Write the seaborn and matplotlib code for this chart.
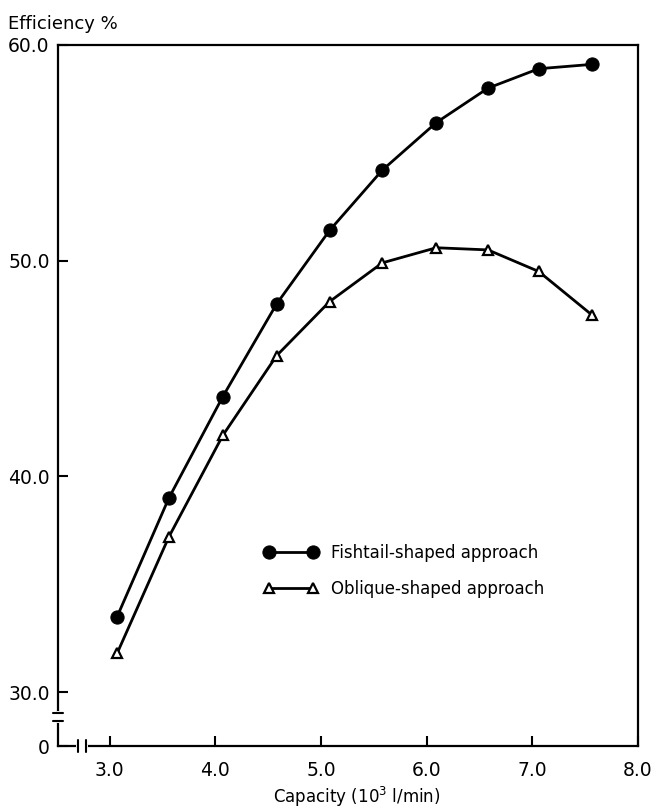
import pandas as pd
import seaborn as sns
import matplotlib.pyplot as plt

# values
capacity = [3.07, 3.56, 4.07, 4.58, 5.08, 5.58, 6.09, 6.58, 7.06, 7.56]
fishtail = [33.5, 39.0, 43.7, 48.0, 51.4, 54.2, 56.4, 58.0, 58.9, 59.1]
oblique = [31.8, 37.2, 41.9, 45.6, 48.1, 49.9, 50.6, 50.5, 49.5, 47.5]

x_ticks = [3.0, 4.0, 5.0, 6.0, 7.0, 8.0]
x_labels = ["3.0", "4.0", "5.0", "6.0", "7.0", "8.0"]
y_ticks = [27.5, 30.0, 40.0, 50.0, 60.0]
y_labels = ["0", "30.0", "40.0", "50.0", "60.0"]

df = pd.DataFrame({"capacity": capacity, "fishtail": fishtail, "oblique": oblique})

sns.set_style("ticks")
plt.rcParams["font.family"] = ["DejaVu Sans"]
plt.rcParams["text.color"] = "black"
plt.rcParams["xtick.color"] = "black"
plt.rcParams["ytick.color"] = "black"

fig = plt.figure(figsize=(6.57, 8.09), dpi=100)
ax = fig.add_axes([58 / 657, 1 - 746 / 809, 580 / 657, 701 / 809])

sns.lineplot(data=df, x="capacity", y="fishtail", ax=ax, color="black", lw=2,
             marker="o", ms=9.5, mfc="black", mec="black",
             label="Fishtail-shaped approach")
sns.lineplot(data=df, x="capacity", y="oblique", ax=ax, color="black", lw=2,
             marker="^", ms=7.5, mfc="white", mec="black", mew=1.6,
             label="Oblique-shaped approach")

ax.set_xlim(2.51, 8.0)
ax.set_ylim(27.5, 60.0)
ax.set_xticks(x_ticks)
ax.set_xticklabels(x_labels)
ax.set_yticks(y_ticks)
ax.set_yticklabels(y_labels)
ax.tick_params(axis="both", direction="in", length=7, width=1.5, labelsize=13.5,
               colors="black")
ax.tick_params(axis="x", pad=11)
ax.tick_params(axis="y", pad=6)
ax.set_xlabel("")
ax.set_ylabel("")
for s in ax.spines.values():
    s.set_visible(True)
    s.set_linewidth(1.6)
    s.set_color("black")

# axis break marks
tr = ax.transAxes
ax.plot([0, 0], [0.036, 0.047], transform=tr, color="white", lw=3, clip_on=False, zorder=5)
for yy in [0.036, 0.047]:
    ax.plot([-0.009, 0.009], [yy, yy], transform=tr, color="black", lw=1.5, clip_on=False, zorder=6)
ax.plot([0.035, 0.048], [0, 0], transform=tr, color="white", lw=3, clip_on=False, zorder=5)
for xx in [0.035, 0.048]:
    ax.plot([xx, xx], [-0.008, 0.008], transform=tr, color="black", lw=1.5, clip_on=False, zorder=6)

ax.legend(loc="upper left", bbox_to_anchor=(0.33, 0.31), frameon=False,
          numpoints=2, handlelength=3.2, handletextpad=0.8, labelspacing=1.1,
          fontsize=12)

fig.text(8 / 657, 1 - 24 / 809, "Efficiency %", fontsize=13, va="center", ha="left")
fig.text(357 / 657, 1 - 797 / 809, "Capacity (10$^3$ l/min)", fontsize=12,
         va="center", ha="center")

fig.savefig("out.png", dpi=100)
